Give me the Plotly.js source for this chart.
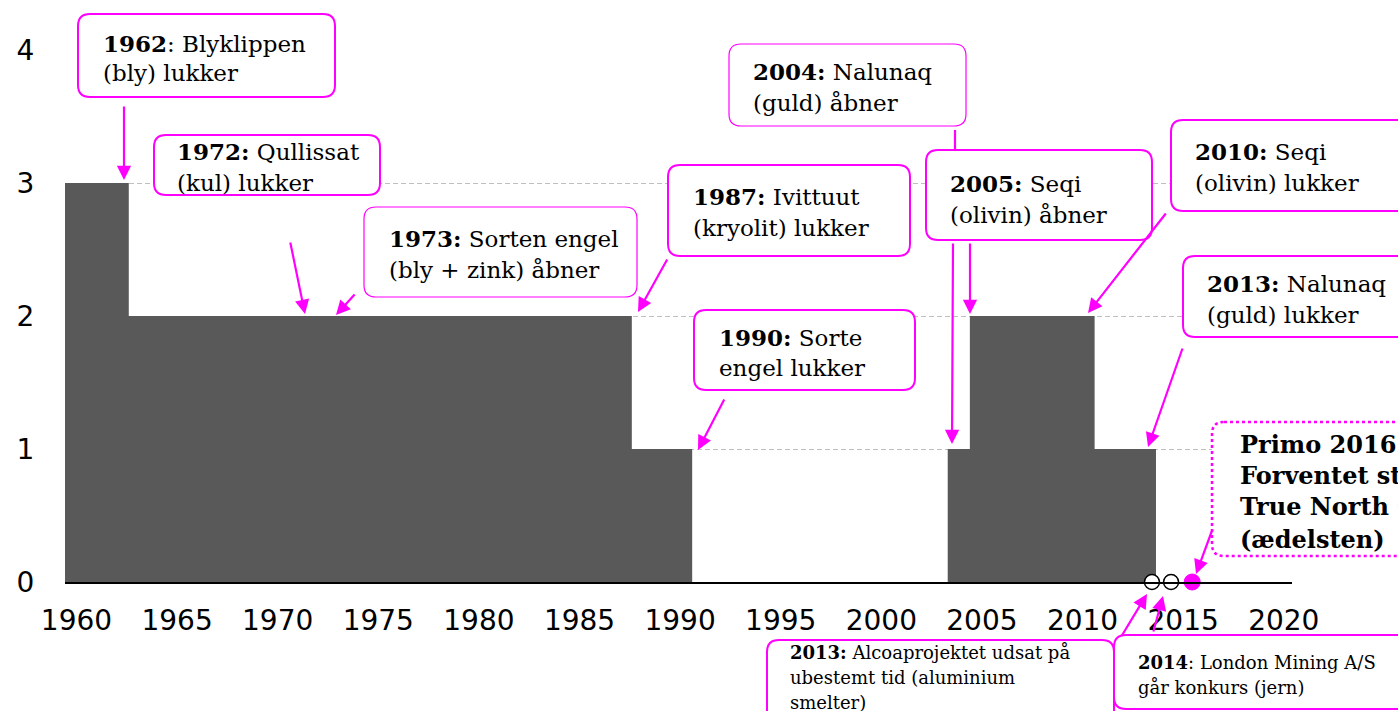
<!DOCTYPE html>
<html>
<head>
<meta charset="utf-8">
<script src="https://cdn.plot.ly/plotly-3.0.1.min.js"></script>
<style>html,body{margin:0;padding:0;background:#fff;}#chart{width:1398px;height:711px;}</style>
</head>
<body>
<div id="chart"></div>
<script>
// ---- data ----
const stepYears   = [1959.43, 1962.6, 1987.6, 1990.6, 2003.3, 2004.4, 2010.6, 2013.65];
const mineCount   = [3, 2, 1, 0, 1, 2, 1, 0];
const pausedYears = [2013.45, 2014.4];
const pausedLevel = [0, 0];
const expectYears = [2015.45];
const expectLevel = [0];
const xTickVals   = [1960, 1965, 1970, 1975, 1980, 1985, 1990, 1995, 2000, 2005, 2010, 2015, 2020];
const yTickVals   = [0, 1, 2, 3, 4];

// ---- layout geometry (pixels) ----
const L = 65, T = 50, W = 1227, H = 532;
const X = px => (px - L) / W;
const Y = py => (T + H - py) / H;
const MAG = '#FF00FF';

function rrect(x0, y0, x1, y1, r) {
  return `M${X(x0+r)},${Y(y0)} L${X(x1-r)},${Y(y0)} Q${X(x1)},${Y(y0)} ${X(x1)},${Y(y0+r)} ` +
         `L${X(x1)},${Y(y1-r)} Q${X(x1)},${Y(y1)} ${X(x1-r)},${Y(y1)} L${X(x0+r)},${Y(y1)} ` +
         `Q${X(x0)},${Y(y1)} ${X(x0)},${Y(y1-r)} L${X(x0)},${Y(y0+r)} Q${X(x0)},${Y(y0)} ${X(x0+r)},${Y(y0)} Z`;
}

// boxes: [x0,y0,x1,y1, borderWidth, dash, textX, fontSize, lines[[baseline, html]]]
const boxes = [
  [78, 14, 335, 97, 2, 'solid', 102, 23, [[50, '<b>1962</b>: Blyklippen'], [80, '(bly) lukker']]],
  [154, 135, 380, 195, 2, 'solid', 176, 23, [[158, '<b>1972:</b> Qullissat'], [190, '(kul) lukker']]],
  [364, 207, 637, 297, 1.2, 'solid', 388, 23, [[245, '<b>1973:</b> Sorten engel'], [277, '(bly + zink) åbner']]],
  [668, 165, 910, 256, 2, 'solid', 692, 23, [[203, '<b>1987:</b> Ivittuut'], [235, '(kryolit) lukker']]],
  [694, 310, 915, 390, 2, 'solid', 718, 23, [[344, '<b>1990:</b> Sorte'], [375, 'engel lukker']]],
  [729, 44, 966, 126, 1.2, 'solid', 752, 23, [[78, '<b>2004:</b> Nalunaq'], [110, '(guld) åbner']]],
  [926, 150, 1152, 240, 2, 'solid', 949, 23, [[190, '<b>2005:</b> Seqi'], [222, '(olivin) åbner']]],
  [1171, 120, 1430, 211, 2, 'solid', 1194, 23, [[158, '<b>2010:</b> Seqi'], [190, '(olivin) lukker']]],
  [1183, 256, 1430, 337, 2, 'solid', 1206, 23, [[290, '<b>2013:</b> Nalunaq'], [322, '(guld) lukker']]],
  [1212, 422, 1440, 556, 2.5, 'dot', 1239, 24, [[451, '<b>Primo 2016</b>'], [482, '<b>Forventet start</b>'], [513, '<b>True North Gems</b>'], [546, '<b>(ædelsten)</b>']]],
  [767, 640, 1114, 740, 2, 'solid', 789, 18, [[658, '<b>2013:</b> Alcoaprojektet udsat på'], [683, 'ubestemt tid (aluminium'], [708, 'smelter)']]],
  [1114, 635, 1440, 709, 2, 'solid', 1137, 18, [[668, '<b>2014</b>: London Mining A/S'], [693, 'går konkurs (jern)']]]
];

// arrows: [tailX, tailY, headX, headY]
const arrows = [
  [124, 105, 124, 180],
  [290, 241, 305, 314],
  [356, 293, 336, 315],
  [668, 258, 638, 312],
  [725, 398, 698, 450],
  [953, 242, 952, 444],
  [970, 242, 970, 314],
  [1167, 212, 1088, 313],
  [1183, 347, 1148, 447],
  [1213, 528, 1196, 574],
  [1121, 637, 1147, 594],
  [1153, 633, 1163, 596]
];

const shapes = [];
const annotations = [];

// line piece of the 2004 arrow above the 2005 box
shapes.push({type: 'line', xref: 'paper', yref: 'paper', x0: X(955), y0: Y(130), x1: X(955), y1: Y(150),
  line: {color: MAG, width: 2.2}, layer: 'above'});

boxes.forEach(b => {
  const [x0, y0, x1, y1, bw, dash, tx, fs, lines] = b;
  shapes.push({type: 'path', xref: 'paper', yref: 'paper', path: rrect(x0, y0, x1, y1, 12),
    line: {color: MAG, width: bw, dash: dash}, fillcolor: '#ffffff', layer: 'above'});
  lines.forEach(([base, html]) => {
    annotations.push({xref: 'paper', yref: 'paper', x: X(tx), y: Y(base - 0.928 * fs),
      xanchor: 'left', yanchor: 'top', text: html, showarrow: false, borderpad: 0,
      font: {family: 'DejaVu Serif', size: fs, color: '#000'}});
  });
});

arrows.forEach(([tx, ty, hx, hy]) => {
  annotations.push({xref: 'paper', yref: 'paper', x: X(hx), y: Y(hy), ax: tx - hx, ay: ty - hy,
    axref: 'pixel', ayref: 'pixel', text: '', showarrow: true, arrowhead: 2, arrowsize: 1.3,
    arrowwidth: 2.2, arrowcolor: MAG, standoff: 0, font: {size: 1}});
});

const traces = [
  {x: stepYears, y: mineCount, type: 'scatter', mode: 'lines', line: {shape: 'hv', width: 0, color: '#595959'},
   fill: 'tozeroy', fillcolor: '#595959', hoverinfo: 'skip'},
  {x: pausedYears, y: pausedLevel, type: 'scatter', mode: 'markers', cliponaxis: false,
   marker: {symbol: 'circle', size: 15, color: '#ffffff', line: {color: '#000', width: 1.5}}},
  {x: expectYears, y: expectLevel, type: 'scatter', mode: 'markers', cliponaxis: false,
   marker: {symbol: 'circle', size: 16, color: MAG, line: {color: MAG, width: 1}}}
];

const layout = {
  width: 1398, height: 711,
  margin: {l: L, r: 1398 - L - W, t: T, b: 711 - T - H, pad: 0},
  paper_bgcolor: '#fff', plot_bgcolor: '#fff',
  showlegend: false,
  font: {family: 'DejaVu Sans', color: '#000'},
  xaxis: {range: [1959.43, 2020.41], tickvals: xTickVals, showgrid: false, zeroline: false,
    showline: true, linecolor: '#000', linewidth: 1.5, ticks: 'outside', ticklen: 13,
    tickcolor: 'rgba(0,0,0,0)', tickfont: {family: 'DejaVu Sans', size: 28, color: '#000'}},
  yaxis: {range: [0, 4], tickvals: yTickVals, showgrid: true, gridcolor: '#bfbfbf', gridwidth: 1,
    griddash: '5px,3px', zeroline: false, showline: false, ticks: 'outside', ticklen: 24,
    tickcolor: 'rgba(0,0,0,0)', tickfont: {family: 'DejaVu Sans', size: 28, color: '#000'}},
  shapes: shapes,
  annotations: annotations
};

Plotly.newPlot('chart', traces, layout, {displayModeBar: false, staticPlot: true});
</script>
</body>
</html>
